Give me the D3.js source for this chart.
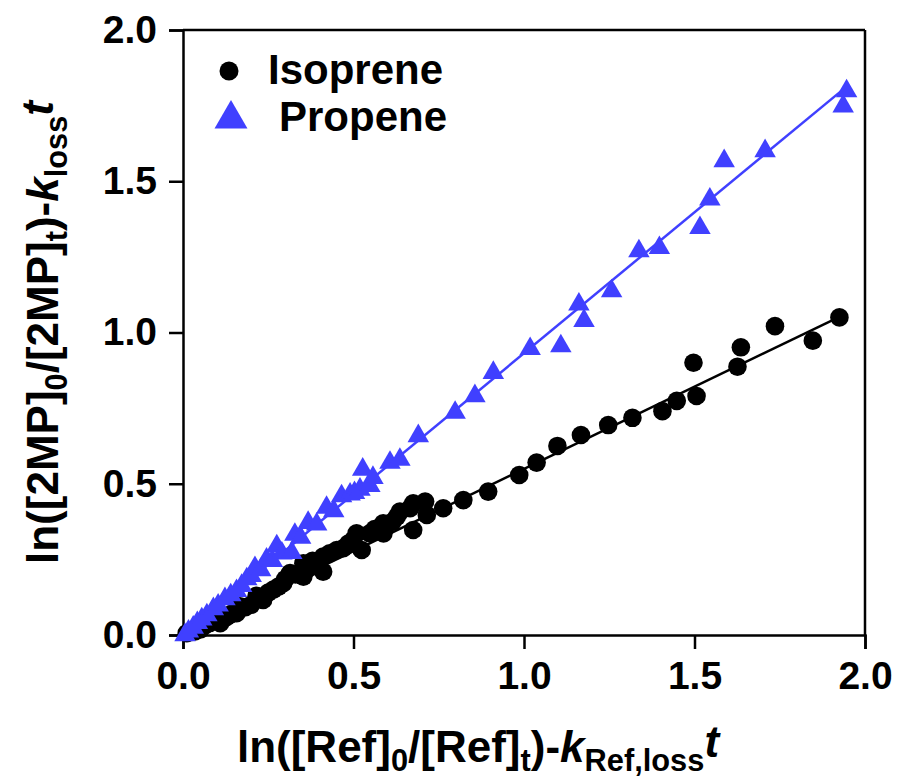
<!DOCTYPE html>
<html>
<head>
<meta charset="utf-8">
<script src="https://cdn.jsdelivr.net/npm/d3@7"></script>
<style>
  html, body { margin: 0; padding: 0; background: #fff; }
  svg { display: block; font-family: "Liberation Sans", Arial, sans-serif; }
</style>
</head>
<body>
<svg id="chart" width="899" height="780"></svg>
<script>
// Relative-rate plot: 2-methylpropene decay vs. reference compound decay

const xTicks = [0.0, 0.5, 1.0, 1.5, 2.0];
const yTicks = [0.0, 0.5, 1.0, 1.5, 2.0];

const seriesNames = ["Isoprene", "Propene"];
const seriesColors = ["#000000", "#4040ff"];

// Isoprene as reference
const isopreneX = [0.011, 0.022, 0.035, 0.050, 0.062, 0.079, 0.092, 0.109, 0.128, 0.142,
  0.157, 0.167, 0.183, 0.200, 0.216, 0.235, 0.250, 0.265, 0.280, 0.294,
  0.300, 0.314, 0.330, 0.353, 0.353, 0.370, 0.380, 0.411, 0.411, 0.430,
  0.451, 0.470, 0.485, 0.499, 0.509, 0.524, 0.548, 0.562, 0.588, 0.587,
  0.597, 0.615, 0.627, 0.636, 0.666, 0.675, 0.675, 0.710, 0.715, 0.763,
  0.822, 0.895, 0.986, 1.037, 1.098, 1.167, 1.247, 1.318, 1.406, 1.448,
  1.497, 1.506, 1.626, 1.636, 1.736, 1.847, 1.925];
const isopreneY = [0.006, 0.010, 0.012, 0.018, 0.030, 0.040, 0.050, 0.039, 0.060, 0.070,
  0.072, 0.095, 0.092, 0.100, 0.130, 0.116, 0.140, 0.150, 0.160, 0.171,
  0.185, 0.205, 0.200, 0.193, 0.237, 0.222, 0.245, 0.209, 0.259, 0.270,
  0.281, 0.287, 0.302, 0.314, 0.336, 0.281, 0.336, 0.350, 0.336, 0.369,
  0.364, 0.375, 0.391, 0.408, 0.419, 0.347, 0.435, 0.441, 0.397, 0.419,
  0.446, 0.474, 0.529, 0.570, 0.625, 0.661, 0.694, 0.718, 0.740, 0.774,
  0.900, 0.790, 0.887, 0.951, 1.021, 0.973, 1.050];

// Propene as reference
const propeneX = [0.006, 0.016, 0.030, 0.042, 0.055, 0.070, 0.089, 0.103, 0.123, 0.140,
  0.157, 0.172, 0.187, 0.200, 0.211, 0.228, 0.245, 0.262, 0.275, 0.290,
  0.319, 0.328, 0.345, 0.367, 0.392, 0.421, 0.442, 0.465, 0.490, 0.503,
  0.519, 0.548, 0.527, 0.557, 0.607, 0.636, 0.690, 0.798, 0.856, 0.910,
  1.018, 1.108, 1.161, 1.176, 1.257, 1.337, 1.397, 1.516, 1.545, 1.587,
  1.707, 1.936, 1.946];
const propeneY = [0.000, 0.012, 0.025, 0.040, 0.052, 0.066, 0.086, 0.098, 0.119, 0.132,
  0.146, 0.163, 0.185, 0.196, 0.222, 0.215, 0.250, 0.245, 0.294, 0.270,
  0.272, 0.332, 0.322, 0.371, 0.366, 0.421, 0.410, 0.459, 0.465, 0.470,
  0.481, 0.493, 0.547, 0.520, 0.570, 0.580, 0.658, 0.735, 0.790, 0.867,
  0.946, 0.955, 1.093, 1.039, 1.137, 1.269, 1.280, 1.346, 1.440, 1.567,
  1.600, 1.748, 1.798];

// Linear fits drawn from first to last point: [x0, y0, x1, y1]
const isopreneFit = [0.0, 0.005, 1.925, 1.052];
const propeneFit = [0.0, 0.0, 1.945, 1.812];

const svg = d3.select("#chart");
const margin = { left: 183, right: 34, top: 30, bottom: 145 };
const W = 899, H = 780;
const x = d3.scaleLinear().domain([0, 2]).range([margin.left, W - margin.right]);
const y = d3.scaleLinear().domain([0, 2]).range([H - margin.bottom, margin.top]);

const fmt = d3.format(".1f");

// frame (top and right edges)
svg.append("line").attr("x1", x(0)).attr("x2", x(2)).attr("y1", y(2)).attr("y2", y(2))
  .attr("stroke", "#000").attr("stroke-width", 2.5);
svg.append("line").attr("x1", x(2)).attr("x2", x(2)).attr("y1", y(0)).attr("y2", y(2))
  .attr("stroke", "#000").attr("stroke-width", 2.5);

const xAxis = svg.append("g").attr("transform", `translate(0,${y(0)})`)
  .call(d3.axisBottom(x).tickValues(xTicks).tickFormat(fmt).tickSize(14).tickPadding(12));
const yAxis = svg.append("g").attr("transform", `translate(${x(0)},0)`)
  .call(d3.axisLeft(y).tickValues(yTicks).tickFormat(fmt).tickSize(14).tickPadding(12));

[xAxis, yAxis].forEach(g => {
  g.select(".domain").attr("stroke-width", 2.5);
  g.selectAll(".tick line").attr("stroke-width", 2.5);
  g.selectAll(".tick text")
    .attr("font-family", "'Liberation Sans', Arial, sans-serif")
    .attr("font-weight", "bold")
    .attr("font-size", 39)
    .attr("fill", "#000");
});

// fit lines
const fits = [isopreneFit, propeneFit];
fits.forEach((f, i) => {
  svg.append("line")
    .attr("x1", x(f[0])).attr("y1", y(f[1]))
    .attr("x2", x(f[2])).attr("y2", y(f[3]))
    .attr("stroke", seriesColors[i]).attr("stroke-width", 2.5);
});

// data markers
const iso = isopreneX.map((v, i) => [v, isopreneY[i]]);
const pro = propeneX.map((v, i) => [v, propeneY[i]]);

svg.append("g").selectAll("circle").data(iso).join("circle")
  .attr("cx", d => x(d[0])).attr("cy", d => y(d[1])).attr("r", 9.3)
  .attr("fill", seriesColors[0]);

const tri = d3.symbol().type(d3.symbolTriangle).size(200);
svg.append("g").selectAll("path").data(pro).join("path")
  .attr("d", tri)
  .attr("transform", d => `translate(${x(d[0])},${y(d[1])})`)
  .attr("fill", seriesColors[1]);

// legend
const leg = svg.append("g");
leg.append("circle").attr("cx", 229).attr("cy", 71).attr("r", 9.5).attr("fill", seriesColors[0]);
leg.append("path").attr("d", d3.symbol().type(d3.symbolTriangle).size(470)())
  .attr("transform", "translate(231,119)").attr("fill", seriesColors[1]);
leg.append("text").attr("x", 268).attr("y", 84).text(seriesNames[0])
  .attr("font-weight", "bold").attr("font-size", 42);
leg.append("text").attr("x", 279).attr("y", 131).text(seriesNames[1])
  .attr("font-weight", "bold").attr("font-size", 42);

// axis titles
const subSize = "70%";
const xt = svg.append("text").attr("x", x(1) - 46).attr("y", 762)
  .attr("text-anchor", "middle").attr("font-weight", "bold").attr("font-size", 44);
xt.append("tspan").text("ln([Ref]");
xt.append("tspan").attr("font-size", subSize).attr("dy", 9).text("0");
xt.append("tspan").attr("dy", -9).text("/[Ref]");
xt.append("tspan").attr("font-size", subSize).attr("dy", 9).text("t");
xt.append("tspan").attr("dy", -9).text(")-");
xt.append("tspan").attr("font-style", "italic").text("k");
xt.append("tspan").attr("font-size", subSize).attr("dy", 9).text("Ref,loss");
xt.append("tspan").attr("font-style", "italic").attr("dy", -14).text("t");

const yt = svg.append("text")
  .attr("transform", `translate(58,${(y(0) + y(2)) / 2}) rotate(-90)`)
  .attr("text-anchor", "middle").attr("font-weight", "bold").attr("font-size", 44);
yt.append("tspan").text("ln([2MP]");
yt.append("tspan").attr("font-size", subSize).attr("dy", 9).text("0");
yt.append("tspan").attr("dy", -9).text("/[2MP]");
yt.append("tspan").attr("font-size", subSize).attr("dy", 9).text("t");
yt.append("tspan").attr("dy", -9).text(")-");
yt.append("tspan").attr("font-style", "italic").text("k");
yt.append("tspan").attr("font-size", subSize).attr("dy", 9).text("loss");
yt.append("tspan").attr("font-style", "italic").attr("dy", -14).text("t");
</script>
</body>
</html>
